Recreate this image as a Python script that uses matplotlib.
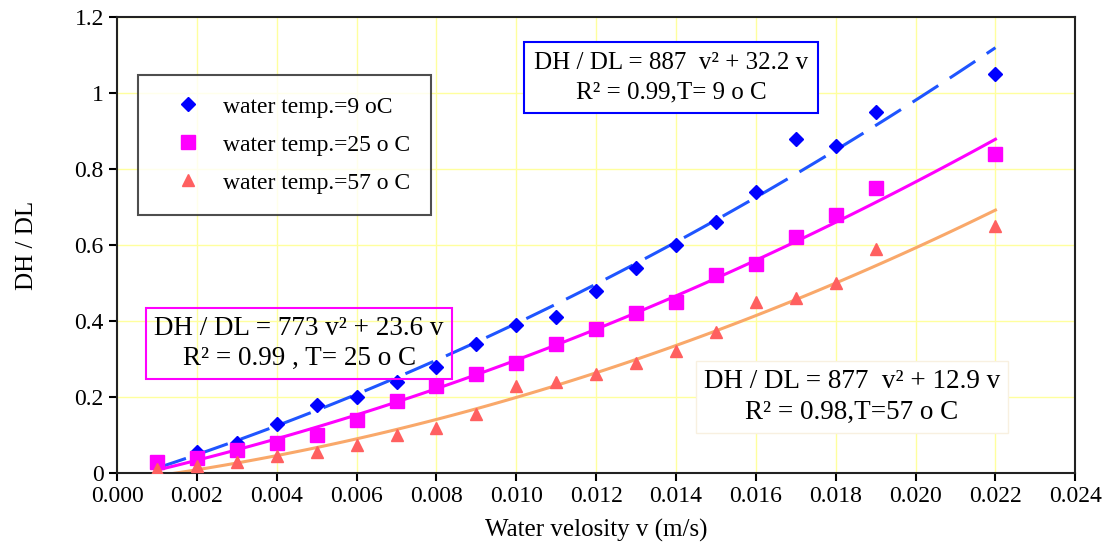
import numpy as np
import matplotlib
matplotlib.use("Agg")
import matplotlib.pyplot as plt
from matplotlib.ticker import MultipleLocator, FormatStrFormatter

plt.rcParams['font.family'] = ['Liberation Serif', 'DejaVu Serif']

# data
velocity = [0.001, 0.002, 0.003, 0.004, 0.005, 0.006, 0.007, 0.008, 0.009, 0.010,
            0.011, 0.012, 0.013, 0.014, 0.015, 0.016, 0.017, 0.018, 0.019, 0.022]
dhdl_9 = [0.03, 0.055, 0.08, 0.13, 0.18, 0.20, 0.24, 0.28, 0.34, 0.39,
          0.41, 0.48, 0.54, 0.60, 0.66, 0.74, 0.88, 0.86, 0.95, 1.05]
dhdl_25 = [0.03, 0.04, 0.06, 0.08, 0.10, 0.14, 0.19, 0.23, 0.26, 0.29,
           0.34, 0.38, 0.42, 0.45, 0.52, 0.55, 0.62, 0.68, 0.75, 0.84]
dhdl_57 = [0.01, 0.02, 0.03, 0.045, 0.055, 0.075, 0.10, 0.12, 0.155, 0.23,
           0.24, 0.26, 0.29, 0.32, 0.37, 0.45, 0.46, 0.50, 0.59, 0.65]

labels = ["water temp.=9 oC", "water temp.=25 o C", "water temp.=57 o C"]
eqs = ["DH / DL = 887  v² + 32.2 v\nR² = 0.99,T= 9 o C",
       "DH / DL = 773 v² + 23.6 v\nR² = 0.99 , T= 25 o C",
       "DH / DL = 877  v² + 12.9 v\nR² = 0.98,T=57 o C"]

fig = plt.figure(figsize=(11.04, 5.6), dpi=100)
ax = fig.add_axes([0.106, 0.155, 0.868, 0.815])

x = np.array(velocity)
xs = np.linspace(x.min(), x.max(), 100)

# trendlines (2nd order fits of each series)
for y, col, ls in [(dhdl_9, '#1f55ff', (0, (10, 4.5))),
                   (dhdl_25, '#ff00ff', '-'),
                   (dhdl_57, '#f9a86a', '-')]:
    c = np.polyfit(x, y, 2)
    ax.plot(xs, np.polyval(c, xs), color=col, lw=2.2, linestyle=ls, zorder=2)

ax.plot(x, dhdl_9, 'D', color='#0000ff', ms=7, ls='none', label=labels[0], zorder=3)
ax.plot(x, dhdl_25, 's', color='#ff00ff', ms=10, ls='none', label=labels[1], zorder=3)
ax.plot(x, dhdl_57, '^', color='#ff6060', ms=9, ls='none', label=labels[2], zorder=3)

ax.set_xlim(0, 0.024)
ax.set_ylim(0, 1.2)
ax.xaxis.set_major_locator(MultipleLocator(0.002))
ax.xaxis.set_major_formatter(FormatStrFormatter('%.3f'))
ax.set_yticks([0, 0.2, 0.4, 0.6, 0.8, 1.0, 1.2])
ax.set_yticklabels(['0', '0.2', '0.4', '0.6', '0.8', '1', '1.2'])
ax.grid(True, color='#ffff9e', lw=1)
ax.set_axisbelow(True)
ax.tick_params(labelsize=17, direction='out', length=6, width=1.5)
for s in ax.spines.values():
    s.set_linewidth(1.5)
    s.set_color('#222222')

ax.set_xlabel("Water velosity v (m/s)", fontsize=18, labelpad=8)
ax.set_ylabel("DH / DL", fontsize=18, labelpad=26)

leg = ax.legend(loc='upper left', bbox_to_anchor=(0.022, 0.873), fontsize=17,
                frameon=True, fancybox=False, borderpad=0.9, labelspacing=0.7,
                handletextpad=0.3, handlelength=2.4, borderaxespad=0)
leg.get_frame().set_edgecolor('#222222')
leg.get_frame().set_linewidth(1.5)

ax.text(0.01387, 1.0395, eqs[0], ha='center', va='center', fontsize=18,
        linespacing=1.4, bbox=dict(boxstyle='square,pad=0.4', fc='white', ec='#0000ff', lw=1.5))
ax.text(0.00456, 0.342, eqs[1], ha='center', va='center', fontsize=19.5,
        linespacing=1.25, bbox=dict(boxstyle='square,pad=0.3', fc='none', ec='#ff00ff', lw=1.5))
ax.text(0.01841, 0.20, eqs[2], ha='center', va='center', fontsize=19.5,
        linespacing=1.3, bbox=dict(boxstyle='square,pad=0.3', fc='white', ec='#f8f0e0', lw=1.0))

fig.savefig("out.png", dpi=100)
